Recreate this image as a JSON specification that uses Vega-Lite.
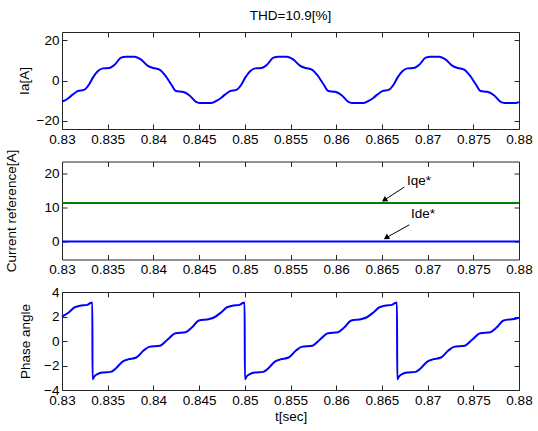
{
 "$schema": "https://vega.github.io/schema/vega-lite/v6.json",
 "background": "white",
 "padding": {"left": 3, "top": 8, "right": 10, "bottom": 5},
 "config": {
  "font": "Liberation Sans",
  "view": {"stroke": "#262626", "strokeWidth": 1},
  "axis": {"grid": false, "domain": false, "ticks": true, "tickSize": -5, "tickColor": "#262626", "tickWidth": 1,
           "labelFont": "Liberation Sans", "labelFontSize": 13.5, "labelColor": "#000000", "labelPadding": 8,
           "labelFlush": false, "labelOverlap": false,
           "titleFont": "Liberation Sans", "titleFontSize": 13.5, "titleFontWeight": "normal", "titleColor": "#000000"}
 },
 "datasets": {
  "ia": [
   {"t":0.83,"ia":-10.4},{"t":0.83026,"ia":-10.0},{"t":0.83076,"ia":-8.5},{"t":0.83116,"ia":-7.0},{"t":0.83171,"ia":-5.3},
   {"t":0.83246,"ia":-4.5},{"t":0.83296,"ia":-2.0},{"t":0.83336,"ia":1.3},{"t":0.83391,"ia":4.6},{"t":0.83446,"ia":6.0},
   {"t":0.83516,"ia":6.2},{"t":0.83576,"ia":7.8},{"t":0.83646,"ia":11.3},{"t":0.83701,"ia":11.8},{"t":0.83791,"ia":11.8},
   {"t":0.83866,"ia":10.3},{"t":0.83936,"ia":7.4},{"t":0.83996,"ia":6.2},{"t":0.84066,"ia":5.4},{"t":0.84136,"ia":2.1},
   {"t":0.84196,"ia":-2.0},{"t":0.84246,"ia":-5.2},{"t":0.84321,"ia":-5.6},{"t":0.84396,"ia":-7.4},{"t":0.84466,"ia":-10.6},
   {"t":0.84506,"ia":-11.1},{"t":0.84633,"ia":-11.1},
   {"t":0.84693,"ia":-10.0},{"t":0.84743,"ia":-8.5},{"t":0.84783,"ia":-7.0},{"t":0.84838,"ia":-5.3},
   {"t":0.84913,"ia":-4.5},{"t":0.84963,"ia":-2.0},{"t":0.85003,"ia":1.3},{"t":0.85058,"ia":4.6},{"t":0.85113,"ia":6.0},
   {"t":0.85183,"ia":6.2},{"t":0.85243,"ia":7.8},{"t":0.85313,"ia":11.3},{"t":0.85368,"ia":11.8},{"t":0.85458,"ia":11.8},
   {"t":0.85533,"ia":10.3},{"t":0.85603,"ia":7.4},{"t":0.85663,"ia":6.2},{"t":0.85733,"ia":5.4},{"t":0.85803,"ia":2.1},
   {"t":0.85863,"ia":-2.0},{"t":0.85913,"ia":-5.2},{"t":0.85988,"ia":-5.6},{"t":0.86063,"ia":-7.4},{"t":0.86133,"ia":-10.6},
   {"t":0.86173,"ia":-11.1},{"t":0.86299,"ia":-11.1},
   {"t":0.86359,"ia":-10.0},{"t":0.86409,"ia":-8.5},{"t":0.86449,"ia":-7.0},{"t":0.86504,"ia":-5.3},
   {"t":0.86579,"ia":-4.5},{"t":0.86629,"ia":-2.0},{"t":0.86669,"ia":1.3},{"t":0.86724,"ia":4.6},{"t":0.86779,"ia":6.0},
   {"t":0.86849,"ia":6.2},{"t":0.86909,"ia":7.8},{"t":0.86979,"ia":11.3},{"t":0.87034,"ia":11.8},{"t":0.87124,"ia":11.8},
   {"t":0.87199,"ia":10.3},{"t":0.87269,"ia":7.4},{"t":0.87329,"ia":6.2},{"t":0.87399,"ia":5.4},{"t":0.87469,"ia":2.1},
   {"t":0.87529,"ia":-2.0},{"t":0.87579,"ia":-5.2},{"t":0.87654,"ia":-5.6},{"t":0.87729,"ia":-7.4},{"t":0.87799,"ia":-10.6},
   {"t":0.87839,"ia":-11.1},{"t":0.8796,"ia":-11.1},{"t":0.88,"ia":-10.7}
  ],
  "ref": [
   {"t":0.83,"v":11.3,"s":"Iqe*"},{"t":0.88,"v":11.3,"s":"Iqe*"},
   {"t":0.83,"v":0,"s":"Ide*"},{"t":0.88,"v":0,"s":"Ide*"}
  ],
  "ann": [
   {"label":"Iqe*","tx":0.86775,"ty":17.9,"x1":0.86745,"y1":16.0,"x2":0.86526,"y2":12.15},
   {"label":"Ide*","tx":0.86818,"ty":8.1,"x1":0.868,"y1":4.9,"x2":0.86547,"y2":1.1}
  ],
  "ang": [
   {"t":0.83,"a":2.0},{"t":0.83077,"a":2.35},{"t":0.83137,"a":2.74},{"t":0.83197,"a":2.88},{"t":0.83277,"a":2.95},
   {"t":0.83312,"a":3.1},{"t":0.83332,"a":3.14},
   {"t":0.83334,"a":-3.13},{"t":0.83353,"a":-2.9},{"t":0.83393,"a":-2.68},{"t":0.83443,"a":-2.57},{"t":0.83533,"a":-2.52},
   {"t":0.83588,"a":-2.24},{"t":0.83663,"a":-1.68},{"t":0.83723,"a":-1.5},{"t":0.83813,"a":-1.35},{"t":0.83893,"a":-0.78},
   {"t":0.83953,"a":-0.48},{"t":0.84073,"a":-0.38},{"t":0.84153,"a":0.1},{"t":0.84243,"a":0.64},{"t":0.84353,"a":0.72},
   {"t":0.84423,"a":1.12},{"t":0.84498,"a":1.68},{"t":0.84613,"a":1.8},{"t":0.84663,"a":1.92},{"t":0.84743,"a":2.35},
   {"t":0.84803,"a":2.74},{"t":0.84863,"a":2.88},{"t":0.84943,"a":2.95},{"t":0.84978,"a":3.1},{"t":0.84998,"a":3.14},
   {"t":0.85001,"a":-3.13},{"t":0.8502,"a":-2.9},{"t":0.8506,"a":-2.68},{"t":0.8511,"a":-2.57},{"t":0.852,"a":-2.52},
   {"t":0.85255,"a":-2.24},{"t":0.8533,"a":-1.68},{"t":0.8539,"a":-1.5},{"t":0.8548,"a":-1.35},{"t":0.8556,"a":-0.78},
   {"t":0.8562,"a":-0.48},{"t":0.8574,"a":-0.38},{"t":0.8582,"a":0.1},{"t":0.8591,"a":0.64},{"t":0.8602,"a":0.72},
   {"t":0.8609,"a":1.12},{"t":0.86165,"a":1.68},{"t":0.8628,"a":1.8},{"t":0.8633,"a":1.92},{"t":0.8641,"a":2.35},
   {"t":0.8647,"a":2.74},{"t":0.8653,"a":2.88},{"t":0.8661,"a":2.95},{"t":0.86645,"a":3.1},{"t":0.86665,"a":3.14},
   {"t":0.86668,"a":-3.13},{"t":0.86687,"a":-2.9},{"t":0.86727,"a":-2.68},{"t":0.86777,"a":-2.57},{"t":0.86867,"a":-2.52},
   {"t":0.86922,"a":-2.24},{"t":0.86997,"a":-1.68},{"t":0.87057,"a":-1.5},{"t":0.87147,"a":-1.35},{"t":0.87227,"a":-0.78},
   {"t":0.87287,"a":-0.48},{"t":0.87407,"a":-0.38},{"t":0.87487,"a":0.1},{"t":0.87577,"a":0.64},{"t":0.87687,"a":0.72},
   {"t":0.87757,"a":1.12},{"t":0.87832,"a":1.68},{"t":0.87947,"a":1.8},{"t":0.88,"a":1.9}
  ]
 },
 "spacing": 32.5,
 "bounds": "flush",
 "vconcat": [
  {
   "width": 457, "height": 97,
   "title": {"text": "THD=10.9[%]", "fontSize": 13.5, "fontWeight": "normal", "offset": 9, "color": "#000000", "font": "Liberation Sans"},
   "data": {"name": "ia"},
   "layer": [
    {"mark": {"type": "line", "color": "#0000ff", "strokeWidth": 2, "interpolate": "monotone"},
     "encoding": {
      "x": {"field": "t", "type": "quantitative", "scale": {"domain": [0.83, 0.88], "nice": false, "zero": false},
            "axis": {"orient": "bottom", "values": [0.83,0.835,0.84,0.845,0.85,0.855,0.86,0.865,0.87,0.875,0.88], "format": ".3~f", "title": null}},
      "y": {"field": "ia", "type": "quantitative", "scale": {"domain": [-24, 24], "nice": false, "zero": false},
            "axis": {"orient": "left", "values": [-20, 0, 20], "title": "Ia[A]", "titleX": -38, "titleBaseline": "middle"}}
     }},
    {"mark": {"type": "line", "opacity": 0},
     "encoding": {
      "x": {"field": "t", "type": "quantitative", "scale": {"domain": [0.83, 0.88], "nice": false, "zero": false},
            "axis": {"orient": "top", "values": [0.83,0.835,0.84,0.845,0.85,0.855,0.86,0.865,0.87,0.875,0.88], "labels": false, "title": null}},
      "y": {"field": "ia", "type": "quantitative", "scale": {"domain": [-24, 24], "nice": false, "zero": false},
            "axis": {"orient": "right", "values": [-20, 0, 20], "labels": false, "title": null}}
     }}
   ],
   "resolve": {"axis": {"x": "independent", "y": "independent"}}
  },
  {
   "width": 457, "height": 98,
   "layer": [
    {"data": {"name": "ref"},
     "mark": {"type": "line", "strokeWidth": 2},
     "encoding": {
      "x": {"field": "t", "type": "quantitative", "scale": {"domain": [0.83, 0.88], "nice": false, "zero": false},
            "axis": {"orient": "bottom", "values": [0.83,0.835,0.84,0.845,0.85,0.855,0.86,0.865,0.87,0.875,0.88], "format": ".3~f", "title": null}},
      "y": {"field": "v", "type": "quantitative", "scale": {"domain": [-5.3, 23.5], "nice": false, "zero": false},
            "axis": {"orient": "left", "values": [0, 10, 20], "title": "Current reference[A]", "titleX": -51, "titleBaseline": "middle"}},
      "color": {"field": "s", "type": "nominal", "scale": {"domain": ["Iqe*", "Ide*"], "range": ["#008000", "#0000ff"]}, "legend": null}
     }},
    {"data": {"name": "ref"},
     "mark": {"type": "line", "opacity": 0},
     "encoding": {
      "x": {"field": "t", "type": "quantitative", "scale": {"domain": [0.83, 0.88], "nice": false, "zero": false},
            "axis": {"orient": "top", "values": [0.83,0.835,0.84,0.845,0.85,0.855,0.86,0.865,0.87,0.875,0.88], "labels": false, "title": null}},
      "y": {"field": "v", "type": "quantitative", "scale": {"domain": [-5.3, 23.5], "nice": false, "zero": false},
            "axis": {"orient": "right", "values": [0, 10, 20], "labels": false, "title": null}},
      "detail": {"field": "s"}
     }},
    {"data": {"name": "ann"},
     "mark": {"type": "rule", "color": "#000000", "strokeWidth": 1},
     "encoding": {
      "x": {"field": "x1", "type": "quantitative", "scale": {"domain": [0.83, 0.88], "nice": false, "zero": false}, "axis": null},
      "y": {"field": "y1", "type": "quantitative", "scale": {"domain": [-5.3, 23.5], "nice": false, "zero": false}, "axis": null},
      "x2": {"field": "x2"},
      "y2": {"field": "y2"}
     }},
    {"data": {"name": "ann"},
     "mark": {"type": "point", "shape": "triangle-up", "filled": true, "color": "#000000", "opacity": 1, "size": 40, "angle": 237},
     "encoding": {
      "x": {"field": "x2", "type": "quantitative", "scale": {"domain": [0.83, 0.88], "nice": false, "zero": false}, "axis": null},
      "y": {"field": "y2", "type": "quantitative", "scale": {"domain": [-5.3, 23.5], "nice": false, "zero": false}, "axis": null}
     }},
    {"data": {"name": "ann"},
     "mark": {"type": "text", "align": "left", "baseline": "middle", "fontSize": 13.5, "font": "Liberation Sans", "color": "#000000"},
     "encoding": {
      "x": {"field": "tx", "type": "quantitative", "scale": {"domain": [0.83, 0.88], "nice": false, "zero": false}, "axis": null},
      "y": {"field": "ty", "type": "quantitative", "scale": {"domain": [-5.3, 23.5], "nice": false, "zero": false}, "axis": null},
      "text": {"field": "label"}
     }}
   ],
   "resolve": {"axis": {"x": "independent", "y": "independent"}}
  },
  {
   "width": 457, "height": 98,
   "data": {"name": "ang"},
   "layer": [
    {"mark": {"type": "line", "color": "#0000ff", "strokeWidth": 2, "interpolate": "monotone"},
     "encoding": {
      "x": {"field": "t", "type": "quantitative", "scale": {"domain": [0.83, 0.88], "nice": false, "zero": false},
            "axis": {"orient": "bottom", "values": [0.83,0.835,0.84,0.845,0.85,0.855,0.86,0.865,0.87,0.875,0.88], "format": ".3~f", "title": "t[sec]", "titlePadding": 3}},
      "y": {"field": "a", "type": "quantitative", "scale": {"domain": [-4, 4], "nice": false, "zero": false},
            "axis": {"orient": "left", "values": [-4, -2, 0, 2, 4], "title": "Phase angle", "titleX": -37, "titleBaseline": "middle"}}
     }},
    {"mark": {"type": "line", "opacity": 0},
     "encoding": {
      "x": {"field": "t", "type": "quantitative", "scale": {"domain": [0.83, 0.88], "nice": false, "zero": false},
            "axis": {"orient": "top", "values": [0.83,0.835,0.84,0.845,0.85,0.855,0.86,0.865,0.87,0.875,0.88], "labels": false, "title": null}},
      "y": {"field": "a", "type": "quantitative", "scale": {"domain": [-4, 4], "nice": false, "zero": false},
            "axis": {"orient": "right", "values": [-4, -2, 0, 2, 4], "labels": false, "title": null}}
     }}
   ],
   "resolve": {"axis": {"x": "independent", "y": "independent"}}
  }
 ]
}
